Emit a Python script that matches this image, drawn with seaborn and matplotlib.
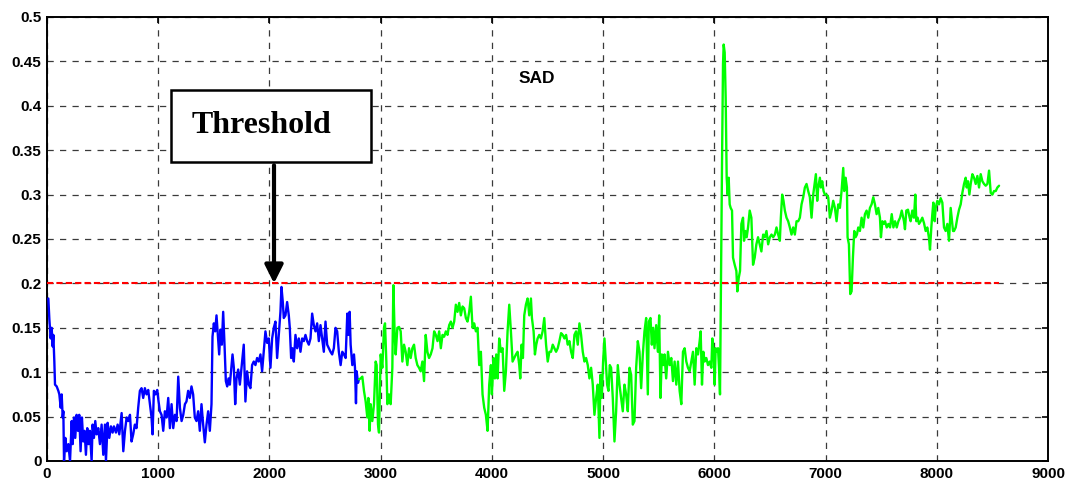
import matplotlib
matplotlib.use("Agg")
import matplotlib.pyplot as plt
import matplotlib.ticker as mticker
from matplotlib.patches import Rectangle
import seaborn as sns
import pandas as pd

# ---------------- data ----------------
blue_points = [
    (12,0.183),(21,0.16),(33,0.138),(42,0.15),(51,0.129),(57,0.142),(66,0.112),(72,0.086),(87,0.084),(102,0.079),
    (111,0.075),(123,0.06),(132,0.075),(141,0.049),(147,0.056),(153,0.0),(165,0.026),(177,0.011),(192,0.019),(207,0.0),
    (222,0.045),(231,0.019),(243,0.049),(254,0.026),(266,0.052),(278,0.034),(290,0.052),(302,0.011),(314,0.049),(326,0.022),
    (338,0.034),(350,0.007),(362,0.037),(374,0.019),(386,0.034),(401,0.0),(410,0.041),(422,0.026),(434,0.045),(446,0.03),
    (461,0.037),(476,0.019),(491,0.041),(506,0.007),(521,0.041),(530,0.0),(545,0.043),(560,0.026),(575,0.039),(590,0.032),
    (602,0.039),(620,0.032),(635,0.041),(650,0.03),(671,0.054),(686,0.011),(701,0.034),(716,0.049),(731,0.045),(746,0.052),
    (760,0.022),(775,0.03),(790,0.041),(805,0.037),(820,0.06),(835,0.079),(850,0.082),(865,0.071),(880,0.082),(895,0.075),
    (910,0.08),(925,0.064),(940,0.049),(949,0.03),(961,0.079),(976,0.075),(991,0.08),(1003,0.067),(1015,0.056),(1030,0.052),
    (1045,0.034),(1060,0.056),(1075,0.049),(1090,0.071),(1105,0.037),(1120,0.064),(1135,0.037),(1150,0.052),(1165,0.045),(1180,0.095),
    (1195,0.06),(1210,0.045),(1225,0.052),(1240,0.064),(1254,0.067),(1269,0.079),(1284,0.071),(1299,0.084),(1314,0.075),(1329,0.049),
    (1344,0.045),(1359,0.056),(1374,0.034),(1389,0.064),(1404,0.041),(1419,0.021),(1434,0.041),(1449,0.056),(1464,0.034),(1479,0.064),
    (1488,0.14),(1500,0.155),(1512,0.146),(1524,0.164),(1536,0.142),(1548,0.12),(1560,0.148),(1572,0.131),(1584,0.168),(1596,0.131),
    (1608,0.09),(1620,0.084),(1632,0.093),(1644,0.086),(1659,0.108),(1668,0.12),(1680,0.105),(1692,0.064),(1704,0.093),(1719,0.103),
    (1734,0.086),(1754,0.112),(1769,0.131),(1784,0.067),(1799,0.101),(1814,0.086),(1829,0.082),(1844,0.108),(1859,0.112),(1874,0.108),
    (1889,0.116),(1904,0.112),(1919,0.12),(1934,0.101),(1949,0.123),(1964,0.146),(1979,0.133),(1994,0.138),(2009,0.105),(2024,0.138),
    (2039,0.15),(2054,0.157),(2069,0.116),(2084,0.142),(2099,0.168),(2108,0.196),(2120,0.179),(2129,0.161),(2144,0.164),(2159,0.179),
    (2174,0.164),(2183,0.15),(2195,0.116),(2207,0.127),(2219,0.112),(2234,0.142),(2249,0.127),(2264,0.138),(2279,0.123),(2294,0.138),
    (2309,0.135),(2324,0.142),(2339,0.135),(2354,0.131),(2369,0.138),(2384,0.166),(2399,0.153),(2414,0.146),(2429,0.155),(2444,0.135),
    (2459,0.153),(2474,0.138),(2489,0.123),(2504,0.157),(2519,0.131),(2534,0.127),(2549,0.123),(2564,0.12),(2579,0.127),(2594,0.15),
    (2609,0.146),(2624,0.123),(2640,0.108),(2655,0.123),(2670,0.12),(2685,0.116),(2700,0.166),(2709,0.142),(2721,0.168),(2730,0.131),
    (2745,0.108),(2760,0.12),(2769,0.105),(2778,0.065),(2784,0.101),(2796,0.088),(2805,0.092),
]

green_points = [
    (2805,0.092),(2820,0.093),(2835,0.095),(2850,0.079),(2865,0.067),(2880,0.049),(2889,0.071),(2901,0.034),(2910,0.064),(2925,0.045),
    (2940,0.064),(2955,0.112),(2964,0.108),(2976,0.041),(2985,0.032),(3000,0.12),(3015,0.105),(3030,0.15),(3039,0.155),(3051,0.112),
    (3060,0.064),(3075,0.075),(3090,0.064),(3105,0.105),(3114,0.198),(3126,0.142),(3135,0.12),(3150,0.15),(3165,0.151),(3180,0.146),
    (3195,0.112),(3210,0.131),(3225,0.123),(3240,0.108),(3255,0.127),(3270,0.116),(3285,0.127),(3300,0.131),(3315,0.116),(3330,0.108),
    (3345,0.105),(3360,0.101),(3375,0.112),(3390,0.09),(3405,0.142),(3420,0.123),(3435,0.116),(3450,0.12),(3466,0.127),(3481,0.146),
    (3496,0.142),(3511,0.135),(3526,0.146),(3541,0.127),(3556,0.142),(3571,0.14),(3586,0.146),(3601,0.142),(3616,0.153),(3631,0.157),
    (3646,0.15),(3661,0.157),(3676,0.176),(3691,0.168),(3706,0.178),(3721,0.164),(3736,0.174),(3751,0.172),(3766,0.161),(3781,0.157),
    (3796,0.168),(3811,0.185),(3826,0.15),(3841,0.155),(3856,0.146),(3871,0.15),(3886,0.108),(3901,0.123),(3916,0.075),(3931,0.06),
    (3946,0.052),(3961,0.034),(3976,0.086),(3991,0.108),(4000,0.075),(4015,0.116),(4027,0.093),(4039,0.12),(4051,0.093),(4066,0.138),
    (4081,0.123),(4096,0.127),(4111,0.079),(4126,0.101),(4141,0.146),(4156,0.176),(4171,0.146),(4186,0.112),(4201,0.116),(4216,0.12),
    (4231,0.123),(4246,0.108),(4255,0.093),(4267,0.131),(4279,0.116),(4291,0.164),(4306,0.176),(4321,0.183),(4336,0.164),(4351,0.183),
    (4360,0.161),(4375,0.146),(4387,0.12),(4399,0.131),(4411,0.138),(4426,0.142),(4441,0.138),(4456,0.146),(4471,0.161),(4487,0.131),
    (4502,0.112),(4517,0.123),(4532,0.123),(4547,0.131),(4562,0.127),(4577,0.123),(4592,0.127),(4607,0.135),(4622,0.144),(4637,0.142),
    (4652,0.138),(4667,0.142),(4682,0.131),(4697,0.135),(4712,0.123),(4727,0.116),(4742,0.142),(4757,0.146),(4772,0.131),(4787,0.155),
    (4802,0.142),(4817,0.123),(4832,0.112),(4847,0.116),(4862,0.108),(4877,0.093),(4892,0.105),(4907,0.086),(4922,0.052),(4937,0.071),
    (4952,0.086),(4967,0.026),(4976,0.097),(4988,0.071),(5000,0.112),(5012,0.138),(5024,0.112),(5036,0.086),(5048,0.079),(5060,0.108),
    (5072,0.105),(5087,0.071),(5102,0.022),(5117,0.056),(5132,0.108),(5147,0.086),(5162,0.071),(5177,0.056),(5192,0.086),(5207,0.075),
    (5222,0.056),(5237,0.105),(5252,0.097),(5267,0.041),(5282,0.045),(5297,0.105),(5312,0.135),(5327,0.123),(5342,0.082),(5357,0.12),
    (5372,0.146),(5387,0.161),(5402,0.075),(5411,0.157),(5426,0.161),(5438,0.131),(5450,0.15),(5462,0.127),(5477,0.153),(5492,0.123),
    (5504,0.164),(5516,0.071),(5528,0.12),(5540,0.108),(5552,0.12),(5567,0.093),(5583,0.123),(5598,0.108),(5613,0.116),(5628,0.09),
    (5643,0.112),(5658,0.086),(5673,0.112),(5688,0.079),(5703,0.064),(5718,0.123),(5733,0.127),(5748,0.112),(5763,0.105),(5778,0.101),
    (5793,0.112),(5808,0.123),(5823,0.086),(5838,0.127),(5853,0.12),(5868,0.135),(5877,0.146),(5889,0.086),(5901,0.123),(5913,0.112),
    (5928,0.116),(5943,0.108),(5958,0.112),(5973,0.105),(5982,0.138),(5994,0.123),(6003,0.086),(6012,0.127),(6024,0.123),(6033,0.127),
    (6042,0.105),(6051,0.075),(6069,0.334),(6078,0.447),(6084,0.469),(6093,0.46),(6102,0.409),(6111,0.319),(6120,0.3),(6129,0.319),
    (6138,0.289),(6147,0.285),(6159,0.282),(6168,0.229),(6183,0.221),(6198,0.214),(6207,0.191),(6219,0.206),(6231,0.214),(6243,0.267),
    (6258,0.274),(6267,0.248),(6279,0.259),(6291,0.252),(6303,0.263),(6318,0.282),(6333,0.274),(6348,0.221),(6363,0.229),(6378,0.244),
    (6393,0.252),(6408,0.244),(6423,0.236),(6439,0.255),(6454,0.252),(6469,0.259),(6484,0.244),(6499,0.252),(6514,0.255),(6529,0.252),
    (6544,0.255),(6559,0.263),(6574,0.255),(6589,0.248),(6598,0.274),(6610,0.3),(6622,0.293),(6634,0.282),(6649,0.274),(6664,0.27),
    (6679,0.263),(6694,0.255),(6709,0.263),(6724,0.255),(6739,0.27),(6754,0.27),(6769,0.274),(6784,0.289),(6799,0.297),(6814,0.308),
    (6829,0.312),(6844,0.304),(6859,0.297),(6874,0.274),(6889,0.3),(6904,0.315),(6913,0.323),(6925,0.293),(6934,0.308),(6949,0.319),
    (6958,0.308),(6970,0.315),(6982,0.304),(6994,0.3),(7009,0.3),(7024,0.297),(7039,0.274),(7054,0.282),(7069,0.293),(7084,0.285),
    (7099,0.27),(7114,0.289),(7129,0.285),(7144,0.304),(7159,0.33),(7168,0.304),(7180,0.319),(7192,0.308),(7198,0.252),(7210,0.244),
    (7222,0.188),(7234,0.191),(7246,0.229),(7258,0.259),(7270,0.252),(7282,0.255),(7294,0.263),(7309,0.259),(7324,0.274),(7339,0.263),
    (7354,0.278),(7369,0.282),(7384,0.274),(7399,0.285),(7414,0.289),(7429,0.297),(7444,0.289),(7459,0.278),(7474,0.285),(7489,0.274),
    (7498,0.252),(7511,0.27),(7523,0.267),(7535,0.27),(7550,0.263),(7565,0.267),(7580,0.263),(7595,0.278),(7610,0.263),(7625,0.27),
    (7640,0.263),(7655,0.27),(7670,0.274),(7685,0.282),(7705,0.27),(7714,0.261),(7726,0.282),(7741,0.283),(7756,0.274),(7765,0.27),
    (7780,0.282),(7795,0.274),(7807,0.3),(7816,0.27),(7828,0.274),(7840,0.267),(7855,0.27),(7870,0.274),(7885,0.268),(7900,0.259),
    (7915,0.263),(7930,0.251),(7939,0.238),(7951,0.263),(7960,0.278),(7969,0.291),(7981,0.27),(7990,0.285),(8005,0.293),(8020,0.289),
    (8035,0.296),(8050,0.291),(8065,0.263),(8080,0.259),(8095,0.267),(8110,0.248),(8125,0.285),(8134,0.274),(8146,0.259),(8155,0.259),
    (8170,0.263),(8185,0.274),(8200,0.283),(8215,0.289),(8230,0.302),(8245,0.312),(8260,0.319),(8269,0.308),(8281,0.315),(8293,0.3),
    (8305,0.312),(8320,0.323),(8335,0.319),(8350,0.312),(8365,0.321),(8380,0.308),(8395,0.323),(8410,0.315),(8425,0.312),(8440,0.31),
    (8455,0.312),(8470,0.327),(8485,0.302),(8500,0.3),(8515,0.304),(8530,0.304),(8545,0.308),(8560,0.31),
]

blue_x, blue_y = [p[0] for p in blue_points], [p[1] for p in blue_points]
green_x, green_y = [p[0] for p in green_points], [p[1] for p in green_points]

threshold_value = 0.2
threshold_span = [0, 8560]
threshold_label = "Threshold"
arrow_target_x = 2041
chart_title = "SAD"
x_ticks = list(range(0, 9001, 1000))
y_ticks = [0, 0.05, 0.1, 0.15, 0.2, 0.25, 0.3, 0.35, 0.4, 0.45, 0.5]

# ---------------- style ----------------
sns.set_style("white")
plt.rcParams["font.family"] = ["Liberation Sans", "DejaVu Sans"]
plt.rcParams["text.color"] = "black"
plt.rcParams["xtick.color"] = "black"
plt.rcParams["ytick.color"] = "black"

fig = plt.figure(figsize=(10.73, 4.83), dpi=100)
ax = fig.add_axes([47 / 1073, 22 / 483, (1048 - 47) / 1073, (461 - 17) / 483])

df_blue = pd.DataFrame({"x": blue_x, "y": blue_y})
df_green = pd.DataFrame({"x": green_x, "y": green_y})

sns.lineplot(data=df_blue, x="x", y="y", ax=ax, color="#0000FF", lw=1.7,
             estimator=None, sort=False, zorder=3)
sns.lineplot(data=df_green, x="x", y="y", ax=ax, color="#00FF00", lw=1.7,
             estimator=None, sort=False, zorder=3)

# threshold line
sns.lineplot(x=threshold_span, y=[threshold_value, threshold_value], ax=ax,
             color="#FF0000", lw=1.5, linestyle=(0, (3, 1.5)), zorder=4)

ax.set_xlim(0, 9000)
ax.set_ylim(0, 0.5)
ax.set_xticks(x_ticks)
ax.set_yticks(y_ticks)
ax.xaxis.set_major_formatter(mticker.FormatStrFormatter("%g"))
ax.yaxis.set_major_formatter(mticker.FormatStrFormatter("%g"))
ax.set_xlabel("")
ax.set_ylabel("")

ax.grid(True, color="#3a3a3a", linestyle=(0, (5, 5)), linewidth=0.9, zorder=1)
ax.set_axisbelow(True)

for s in ax.spines.values():
    s.set_visible(True)
    s.set_color("black")
    s.set_linewidth(1.4)

ax.tick_params(axis="both", direction="in", length=4, width=1.2, top=True,
               right=True, labelsize=11, pad=4, colors="black")
for lab in ax.get_xticklabels() + ax.get_yticklabels():
    lab.set_fontweight("bold")

# SAD title text inside plot
ax.text(4408, 0.431, chart_title, fontsize=12.5, fontweight="bold", color="black",
        ha="center", va="center", zorder=5)

# Threshold box
ax.add_patch(Rectangle((1114, 0.337), 1800, 0.081, facecolor="white",
                       edgecolor="black", lw=1.8, zorder=6))
ax.text(1931, 0.3694, threshold_label, fontsize=23, fontweight="bold", color="black",
        family=["Liberation Serif", "DejaVu Serif"], ha="center",
        va="baseline", zorder=7)

# Arrow
ax.annotate("", xy=(arrow_target_x, threshold_value), xytext=(arrow_target_x, 0.333),
            arrowprops=dict(arrowstyle="-|>,head_length=1.1,head_width=0.55",
                            mutation_scale=10, lw=3, color="black",
                            shrinkA=0, shrinkB=0), zorder=8)

fig.savefig("out.png", dpi=100)
